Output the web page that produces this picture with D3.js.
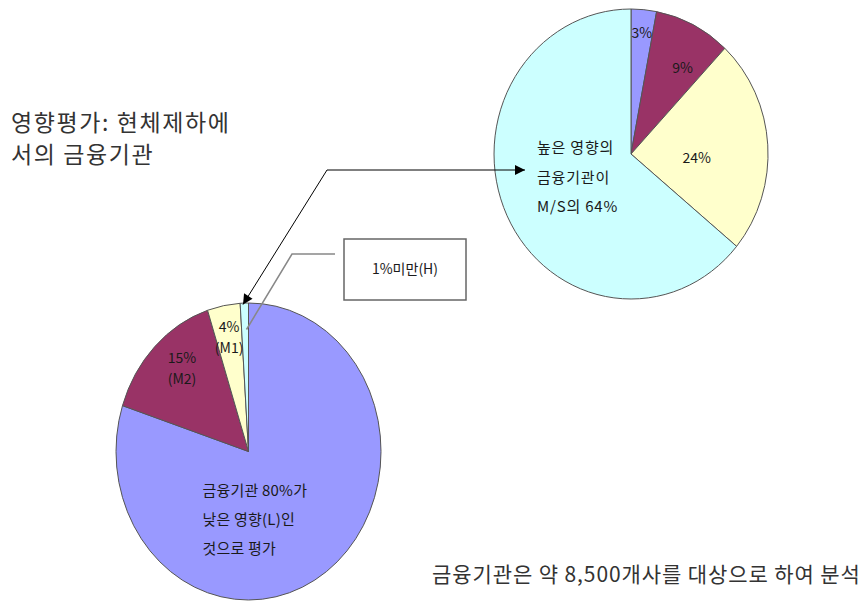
<!DOCTYPE html>
<html>
<head>
<meta charset="utf-8">
<script src="https://cdn.jsdelivr.net/npm/d3@7"></script>
<style>
  html, body { margin: 0; padding: 0; background: #fff; }
  svg { display: block; }
  text { font-family: "Noto Sans CJK KR", "Noto Sans", sans-serif; fill: #1a1a1a; }
</style>
</head>
<body>
<svg id="chart" width="868" height="607"></svg>
<script>
// ---- data ----
const categories = ["L", "M2", "M1", "H"];
const currentShares = [80, 15, 4, 1];          // 현체제하의 금융기관 비중 (%)
const marketShares = [3, 9, 24, 64];           // 시장점유율(M/S) 비중 (%)
const sliceColors = ["#9999FF", "#993366", "#FFFFCC", "#CCFFFF"];
const currentLabels = [null, ["15%", "(M2)"], ["4%", "(M1)"], null];
const marketLabels = [["3%"], ["9%"], ["24%"], null];
const titleLines = ["영향평가: 현체제하에", "서의 금융기관"];
const currentNote = ["금융기관 80%가", "낮은 영향(L)인", "것으로 평가"];
const marketNote = ["높은 영향의", "금융기관이", "M/S의 64%"];
const calloutText = "1%미만(H)";
const footnote = "금융기관은 약 8,500개사를 대상으로 하여 분석";

// ---- layout ----
const svg = d3.select("#chart");
const leftPie = { cx: 248.5, cy: 451.5, rx: 132.5, ry: 148.5 };
const rightPie = { cx: 631, cy: 154, rx: 137, ry: 145 };
// label placement: [radius fraction, angle shift in degrees]
const leftLabelPlace = [null, [0.75, 3], [0.78, 0], null];
const rightLabelPlace = [[0.84, 0], [0.70, 5.6], [0.48, 7], null];

const pie = d3.pie().sort(null).value(d => d).startAngle(0).endAngle(2 * Math.PI);
const arc = d3.arc().innerRadius(0).outerRadius(1);

svg.append("defs").append("marker")
  .attr("id", "arrow").attr("viewBox", "0 0 10 10")
  .attr("refX", 10).attr("refY", 5)
  .attr("markerWidth", 12).attr("markerHeight", 10)
  .attr("markerUnits", "userSpaceOnUse")
  .attr("orient", "auto-start-reverse")
  .append("path").attr("d", "M0,0 L10,5 L0,10 Z").attr("fill", "#000");

function drawPie(geo, values, labels, place) {
  const arcs = pie(values);
  const g = svg.append("g")
    .attr("transform", `translate(${geo.cx},${geo.cy}) scale(${geo.rx},${geo.ry})`);
  g.selectAll("path").data(arcs).join("path")
    .attr("d", arc)
    .attr("fill", (d, i) => sliceColors[i])
    .attr("stroke", "#555")
    .attr("stroke-width", 1)
    .attr("vector-effect", "non-scaling-stroke");

  const lg = svg.append("g");
  arcs.forEach((d, i) => {
    if (!labels[i]) return;
    const [f, shift] = place[i];
    const a = (d.startAngle + d.endAngle) / 2 + shift * Math.PI / 180;
    const x = geo.cx + geo.rx * f * Math.sin(a);
    const y = geo.cy - geo.ry * f * Math.cos(a);
    const n = labels[i].length;
    const lh = 21;
    labels[i].forEach((t, k) => {
      lg.append("text")
        .attr("x", x)
        .attr("y", y + (k - (n - 1) / 2) * lh)
        .attr("dy", "0.35em")
        .attr("text-anchor", "middle")
        .attr("font-size", 14)
        .text(t);
    });
  });
}

drawPie(leftPie, currentShares, currentLabels, leftLabelPlace);
drawPie(rightPie, marketShares, marketLabels, rightLabelPlace);

// notes inside pies
function note(lines, x, y0, step, size, ls) {
  lines.forEach((t, k) => {
    svg.append("text").attr("x", x).attr("y", y0 + k * step)
      .attr("font-size", size).attr("letter-spacing", ls).text(t);
  });
}
note(marketNote, rightPie.cx - 94, rightPie.cy - 1, 29.5, 15, 0.8);
note(currentNote, leftPie.cx - 46, leftPie.cy + 44, 29, 15, 0.2);

// title
titleLines.forEach((t, k) => {
  svg.append("text").attr("x", 11).attr("y", 131 + k * 32)
    .attr("font-size", 23).attr("letter-spacing", 1.6).style("fill", "#333").text(t);
});

// footnote
svg.append("text").attr("x", 432).attr("y", 582)
  .attr("font-size", 21).attr("letter-spacing", 0.9).style("fill", "#333").text(footnote);

// double arrow linking the H slices
const topLeft = [leftPie.cx - 5.5, leftPie.cy - leftPie.ry + 1.5];
svg.append("path")
  .attr("d", `M${topLeft[0]},${topLeft[1]} L327,170 L${rightPie.cx - 106},170`)
  .attr("fill", "none").attr("stroke", "#000").attr("stroke-width", 1)
  .attr("marker-start", "url(#arrow)").attr("marker-end", "url(#arrow)");

// callout box for the <1% slice
svg.append("path")
  .attr("d", `M335,254 L292,254 L${leftPie.cx - 2},${leftPie.cy - 122}`)
  .attr("fill", "none").attr("stroke", "#888").attr("stroke-width", 1.5);
svg.append("rect").attr("x", 344).attr("y", 239).attr("width", 122).attr("height", 61)
  .attr("fill", "#fff").attr("stroke", "#666").attr("stroke-width", 1.5);
svg.append("text").attr("x", 405).attr("y", 269.5).attr("dy", "0.35em")
  .attr("text-anchor", "middle").attr("font-size", 14).text(calloutText);
</script>
</body>
</html>
